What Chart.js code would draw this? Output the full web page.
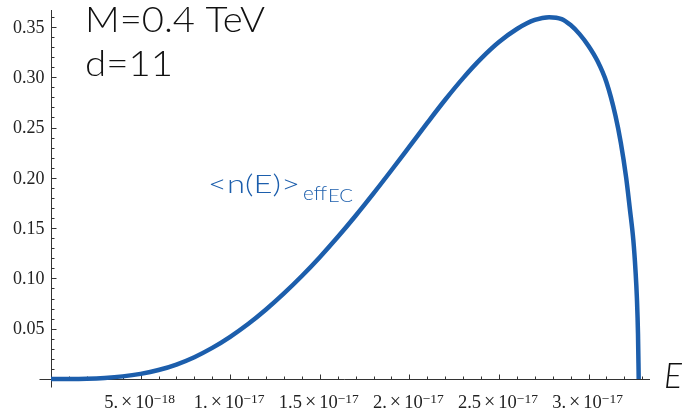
<!DOCTYPE html>
<html>
<head>
<meta charset="utf-8">
<script src="https://cdn.jsdelivr.net/npm/chart.js@4/dist/chart.umd.min.js"></script>
<style>
  html, body { margin: 0; padding: 0; background: #ffffff; }
  #c { display: block; }
</style>
</head>
<body>
<canvas id="c" width="682" height="411"></canvas>
<script>
// ---- data ----
const energies = [0, 1e-18, 2e-18, 3e-18, 4e-18, 5e-18, 6e-18, 7e-18, 8e-18, 9e-18, 1.0e-17, 1.1e-17, 1.2e-17, 1.3e-17,
  1.4e-17, 1.5e-17, 1.6e-17, 1.7e-17, 1.8e-17, 1.9e-17, 2.0e-17, 2.1e-17, 2.2e-17, 2.3e-17, 2.4e-17, 2.5e-17, 2.6e-17,
  2.7e-17, 2.78e-17, 2.85e-17, 2.9e-17, 2.95e-17, 3.0e-17, 3.05e-17, 3.1e-17, 3.15e-17, 3.18e-17, 3.21e-17, 3.23e-17,
  3.25e-17, 3.262e-17, 3.27e-17, 3.276e-17, 3.28e-17];
const occupancy = [0, 0.00003, 0.0003, 0.0011, 0.0026, 0.0051, 0.0089, 0.0144, 0.0217, 0.0309, 0.0419, 0.0546, 0.0691, 0.0851,
  0.1024, 0.1211, 0.1411, 0.1623, 0.1845, 0.2075, 0.2310, 0.2546, 0.2776, 0.2991, 0.3184, 0.3349, 0.3479,
  0.3569, 0.3597, 0.3578, 0.3518, 0.3428, 0.3310, 0.3160, 0.2950, 0.2620, 0.2350, 0.2000,
  0.1700, 0.1380, 0.1080, 0.0800, 0.0450, 0];

const xMajorTicks = [5e-18, 1e-17, 1.5e-17, 2e-17, 2.5e-17, 3e-17];
const xTickMantissa = ['5.', '1.', '1.5', '2.', '2.5', '3.'];
const xTickExponent = ['\u221218', '\u221217', '\u221217', '\u221217', '\u221217', '\u221217'];
const xMinorStep = 1e-18;
const yMajorTicks = [0.05, 0.10, 0.15, 0.20, 0.25, 0.30, 0.35];
const yTickLabels = ['0.05', '0.10', '0.15', '0.20', '0.25', '0.30', '0.35'];
const yMinorStep = 0.01;

const titleLines = ['M=0.4 TeV', 'd=11'];
const curveLabel = ['<n(E)>', 'eff', 'EC'];
const xAxisTitle = 'E';

const X_MAX = 3.343e-17;
const Y_MAX = 0.3668;
const LINE_COLOR = '#1c5eac';
const AXIS_COLOR = '#333333';
const SANS = 'Lato, "DejaVu Sans", sans-serif';
const SERIF = '"Liberation Serif", "DejaVu Serif", serif';

function fitText(ctx, text, x, baseline, width, font, color) {
  ctx.save();
  ctx.font = font;
  ctx.fillStyle = color;
  ctx.textAlign = 'left';
  ctx.textBaseline = 'alphabetic';
  const w = ctx.measureText(text).width;
  ctx.translate(x, baseline);
  ctx.scale(width / w, 1);
  ctx.fillText(text, 0, 0);
  ctx.restore();
}

const axesPlugin = {
  id: 'mmaAxes',
  beforeDatasetsDraw(chart) {
    const ctx = chart.ctx;
    const xs = chart.scales.x, ys = chart.scales.y;
    const x0 = Math.round(xs.getPixelForValue(0)) + 0.5;
    const y0 = Math.round(ys.getPixelForValue(0)) + 0.5;
    const xEnd = xs.getPixelForValue(X_MAX);
    const yTop = ys.getPixelForValue(Y_MAX);
    ctx.save();
    ctx.strokeStyle = AXIS_COLOR;
    ctx.lineWidth = 1;
    ctx.beginPath();
    ctx.moveTo(x0 - 12, y0); ctx.lineTo(xEnd, y0);
    ctx.moveTo(x0, yTop); ctx.lineTo(x0, y0 + 8);
    for (let v = xMinorStep; v <= X_MAX + 1e-30; v += xMinorStep) {
      const px = Math.round(xs.getPixelForValue(v)) + 0.5;
      const major = xMajorTicks.some(t => Math.abs(t - v) < xMinorStep * 0.1);
      ctx.moveTo(px, y0); ctx.lineTo(px, y0 - (major ? 5 : 3));
    }
    for (let v = yMinorStep; v <= Y_MAX + 1e-9; v += yMinorStep) {
      const py = Math.round(ys.getPixelForValue(v)) + 0.5;
      const major = yMajorTicks.some(t => Math.abs(t - v) < yMinorStep * 0.1);
      ctx.moveTo(x0, py); ctx.lineTo(x0 + (major ? 5 : 3), py);
    }
    ctx.stroke();

    ctx.fillStyle = '#222';
    ctx.font = '18px ' + SERIF;
    ctx.textAlign = 'right';
    ctx.textBaseline = 'middle';
    yMajorTicks.forEach((v, i) => {
      ctx.fillText(yTickLabels[i], x0 - 7, ys.getPixelForValue(v) + 1);
    });

    ctx.textBaseline = 'alphabetic';
    ctx.textAlign = 'left';
    const base = y0 + 28;
    xMajorTicks.forEach((v, i) => {
      const mainFont = '18.5px ' + SERIF, timesFont = '20px ' + SERIF, supFont = '13.5px ' + SERIF;
      ctx.font = mainFont;
      const wm = ctx.measureText(xTickMantissa[i]).width;
      const w10 = ctx.measureText('10').width;
      ctx.font = timesFont;
      const wt = ctx.measureText('\u00d7').width;
      ctx.font = supFont;
      const we = ctx.measureText(xTickExponent[i]).width;
      const gap = 3;
      const total = wm + gap + wt + gap + w10 + we;
      let cx = xs.getPixelForValue(v) - total / 2 - 1;
      ctx.font = mainFont; ctx.fillText(xTickMantissa[i], cx, base); cx += wm + gap;
      ctx.font = timesFont; ctx.fillText('\u00d7', cx, base); cx += wt + gap;
      ctx.font = mainFont; ctx.fillText('10', cx, base); cx += w10;
      ctx.font = supFont; ctx.fillText(xTickExponent[i], cx, base - 4.5);
    });
    ctx.restore();
  },
  afterDraw(chart) {
    const ctx = chart.ctx;
    fitText(ctx, titleLines[0], 85, 32, 180, '300 35px ' + SANS, '#111');
    fitText(ctx, titleLines[1], 85, 76, 88, '300 35px ' + SANS, '#111');
    fitText(ctx, curveLabel[0], 208, 193, 92, '300 25px ' + SANS, LINE_COLOR);
    fitText(ctx, curveLabel[1], 303, 200, 24, '300 19px ' + SANS, LINE_COLOR);
    fitText(ctx, curveLabel[2], 328, 202, 25, '300 18px ' + SANS, LINE_COLOR);
    fitText(ctx, xAxisTitle, 664, 388, 18, 'italic 300 36px ' + SANS, '#111');
  }
};

new Chart(document.getElementById('c'), {
  type: 'scatter',
  data: {
    datasets: [{
      data: energies.map((e, i) => ({ x: e, y: occupancy[i] })),
      showLine: true,
      borderColor: LINE_COLOR,
      borderWidth: 4.5,
      pointRadius: 0,
      fill: false,
      cubicInterpolationMode: 'monotone',
      clip: false
    }]
  },
  options: {
    responsive: false,
    animation: false,
    devicePixelRatio: 1,
    layout: { padding: { left: 51, top: 10, right: 32, bottom: 32 } },
    plugins: { legend: { display: false }, tooltip: { enabled: false } },
    scales: {
      x: { type: 'linear', min: 0, max: X_MAX, display: false },
      y: { type: 'linear', min: 0, max: Y_MAX, display: false }
    }
  },
  plugins: [axesPlugin]
});
</script>
</body>
</html>
